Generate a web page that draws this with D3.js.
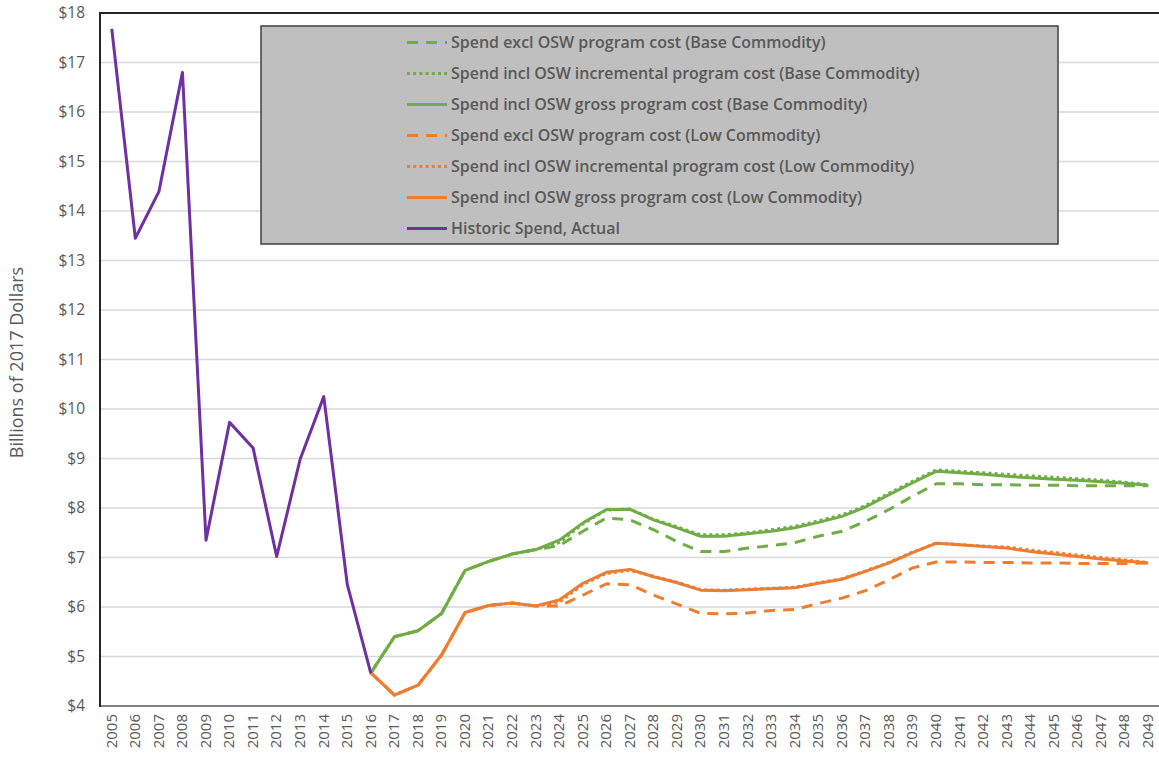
<!DOCTYPE html>
<html>
<head>
<meta charset="utf-8">
<script src="https://cdn.jsdelivr.net/npm/d3@7"></script>
<style>
  html, body { margin: 0; padding: 0; background: #fff; }
  svg { display: block; }
</style>
</head>
<body>
<svg id="chart" width="1159" height="759"></svg>
<script>
// ---------- DATA ----------
const years = d3.range(2005, 2050).map(String);
const histYears = d3.range(2005, 2017).map(String);
const projYears = d3.range(2016, 2050).map(String);

const historicSpend = [17.68, 13.45, 14.39, 16.80, 7.35, 9.73, 9.21, 7.02, 8.99, 10.25, 6.45, 4.66];

const baseExcl = [4.67, 5.40, 5.52, 5.87, 6.74, 6.92, 7.07, 7.16, 7.24, 7.53, 7.80, 7.76, 7.56, 7.32, 7.12, 7.12, 7.19, 7.24, 7.30, 7.43, 7.53, 7.73, 7.97, 8.24, 8.49, 8.49, 8.47, 8.47, 8.46, 8.46, 8.45, 8.45, 8.45, 8.45];
const baseIncr = [4.67, 5.40, 5.52, 5.87, 6.74, 6.92, 7.07, 7.16, 7.30, 7.68, 7.96, 7.98, 7.77, 7.62, 7.46, 7.46, 7.50, 7.56, 7.63, 7.74, 7.86, 8.05, 8.30, 8.54, 8.77, 8.74, 8.71, 8.68, 8.65, 8.62, 8.59, 8.56, 8.52, 8.47];
const baseGross = [4.67, 5.40, 5.52, 5.87, 6.74, 6.92, 7.07, 7.16, 7.35, 7.70, 7.97, 7.97, 7.76, 7.60, 7.43, 7.43, 7.48, 7.53, 7.60, 7.71, 7.83, 8.02, 8.27, 8.51, 8.74, 8.71, 8.68, 8.64, 8.61, 8.58, 8.56, 8.53, 8.50, 8.46];
const lowExcl = [4.67, 4.22, 4.42, 5.03, 5.89, 6.03, 6.08, 6.02, 6.02, 6.24, 6.47, 6.45, 6.24, 6.06, 5.87, 5.86, 5.88, 5.93, 5.95, 6.07, 6.18, 6.33, 6.55, 6.79, 6.91, 6.91, 6.90, 6.90, 6.89, 6.89, 6.88, 6.88, 6.88, 6.89];
const lowIncr = [4.67, 4.22, 4.42, 5.03, 5.89, 6.03, 6.08, 6.02, 6.10, 6.45, 6.68, 6.74, 6.62, 6.50, 6.35, 6.34, 6.36, 6.38, 6.40, 6.49, 6.57, 6.73, 6.90, 7.11, 7.29, 7.26, 7.23, 7.21, 7.15, 7.10, 7.05, 7.00, 6.95, 6.90];
const lowGross = [4.67, 4.22, 4.42, 5.03, 5.89, 6.03, 6.08, 6.02, 6.14, 6.48, 6.70, 6.76, 6.61, 6.49, 6.34, 6.33, 6.35, 6.37, 6.39, 6.48, 6.56, 6.72, 6.89, 7.10, 7.29, 7.26, 7.22, 7.19, 7.12, 7.07, 7.02, 6.97, 6.93, 6.89];

const yTicks = [4, 5, 6, 7, 8, 9, 10, 11, 12, 13, 14, 15, 16, 17, 18];

const seriesNames = [
  "Spend excl OSW program cost (Base Commodity)",
  "Spend incl OSW incremental program cost (Base Commodity)",
  "Spend incl OSW gross program cost (Base Commodity)",
  "Spend excl OSW program cost (Low Commodity)",
  "Spend incl OSW incremental program cost (Low Commodity)",
  "Spend incl OSW gross program cost (Low Commodity)",
  "Historic Spend, Actual"
];
const axisTitle = "Billions of 2017 Dollars";

// ---------- STYLES ----------
const GREEN = "#70ad47", ORANGE = "#ed7d31", PURPLE = "#7030a0";
const DASH = "11,8", DOT = "3,3.2";
const series = [
  { name: seriesNames[0], x: projYears, v: baseExcl, color: GREEN, dash: DASH },
  { name: seriesNames[1], x: projYears, v: baseIncr, color: GREEN, dash: DOT },
  { name: seriesNames[2], x: projYears, v: baseGross, color: GREEN, dash: null },
  { name: seriesNames[3], x: projYears, v: lowExcl, color: ORANGE, dash: DASH },
  { name: seriesNames[4], x: projYears, v: lowIncr, color: ORANGE, dash: DOT },
  { name: seriesNames[5], x: projYears, v: lowGross, color: ORANGE, dash: null },
  { name: seriesNames[6], x: histYears, v: historicSpend, color: PURPLE, dash: null }
];

// ---------- LAYOUT ----------
const svg = d3.select("#chart");
const L = 100, R = 1160, T = 13, B = 706;
const FONT = "'Open Sans', 'Noto Sans', sans-serif";
const TXT = "#595959";

const x = d3.scaleBand().domain(years).range([L, R]).padding(0);
const xc = d => x(d) + x.bandwidth() / 2;
const y = d3.scaleLinear().domain([4, 18]).range([B, T]);

// gridlines
svg.append("g")
  .selectAll("line")
  .data(yTicks.filter(t => t > 4 && t < 18))
  .join("line")
  .attr("x1", L).attr("x2", 1159)
  .attr("y1", d => y(d)).attr("y2", d => y(d))
  .attr("stroke", "#d9d9d9").attr("stroke-width", 1.5);

// y axis
const yAxis = d3.axisLeft(y).tickValues(yTicks).tickFormat(d => "$" + d).tickSize(0).tickPadding(15);
const gy = svg.append("g").attr("transform", `translate(${L},0)`).call(yAxis);
gy.select(".domain").remove();
gy.selectAll("text").attr("font-family", FONT).attr("font-size", 15.5).attr("fill", TXT);

// x axis
const xAxis = d3.axisBottom(x).tickSize(0).tickPadding(0);
const gx = svg.append("g").attr("transform", `translate(0,${B})`).call(xAxis);
gx.select(".domain").remove();
gx.selectAll("text")
  .attr("font-family", FONT).attr("font-size", 15).attr("fill", TXT)
  .attr("text-anchor", "end")
  .attr("transform", "rotate(-90)")
  .attr("x", -8).attr("y", 0).attr("dy", "0.32em");

// frame lines
svg.append("line").attr("x1", L).attr("x2", 1159).attr("y1", B).attr("y2", B)
  .attr("stroke", "#808080").attr("stroke-width", 2);
svg.append("line").attr("x1", L).attr("x2", 1159).attr("y1", T).attr("y2", T)
  .attr("stroke", "#262626").attr("stroke-width", 2);
svg.append("line").attr("x1", L).attr("x2", L).attr("y1", T - 1).attr("y2", B + 1)
  .attr("stroke", "#262626").attr("stroke-width", 2);

// axis title
svg.append("text")
  .attr("transform", `translate(23,${(T + B) / 2 + 3}) rotate(-90)`)
  .attr("text-anchor", "middle")
  .attr("font-family", FONT).attr("font-size", 18).attr("fill", TXT)
  .text(axisTitle);

// series lines
const line = d3.line().x(d => xc(d[0])).y(d => y(d[1]));
svg.append("g").selectAll("path")
  .data(series)
  .join("path")
  .attr("d", s => line(s.x.map((yr, i) => [yr, s.v[i]])))
  .attr("fill", "none")
  .attr("stroke", s => s.color)
  .attr("stroke-width", 3)
  .attr("stroke-linejoin", "round")
  .attr("stroke-dasharray", s => s.dash);

// legend
const leg = svg.append("g");
leg.append("rect").attr("x", 261).attr("y", 26).attr("width", 797).attr("height", 218)
  .attr("fill", "#bfbfbf").attr("stroke", "#404040").attr("stroke-width", 1.5);
const legY = d3.scalePoint().domain(seriesNames).range([42.5, 228.5]);
const items = leg.selectAll("g.item").data(series).join("g").attr("class", "item")
  .attr("transform", s => `translate(0,${legY(s.name)})`);
items.append("line").attr("x1", 407).attr("x2", 447).attr("y1", 0).attr("y2", 0)
  .attr("stroke", s => s.color).attr("stroke-width", 3)
  .attr("stroke-dasharray", s => s.dash);
const lt = items.append("text").attr("x", 451).attr("y", 0).attr("dy", "0.35em")
  .attr("font-family", FONT).attr("font-weight", 600).attr("font-size", 15)
  .attr("fill", TXT).text(s => s.name);
// fit font size so first entry spans the measured width
const w0 = lt.nodes()[0].getComputedTextLength();
lt.attr("font-size", 15 * 375 / w0);
</script>
</body>
</html>
